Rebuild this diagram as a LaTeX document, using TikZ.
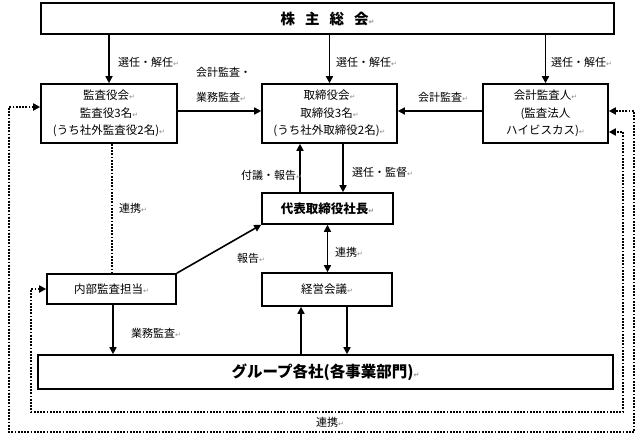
\documentclass[tikz,border=0pt]{standalone}
\usepackage{fontspec}
\setmainfont{Noto Sans CJK JP}
\newfontfamily\djv{DejaVu Sans}
\usetikzlibrary{arrows.meta,calc}
\newcommand\rmk{{\djv\fontsize{7}{7}\selectfont\color{black!45}↵}}
\tikzset{
  bx/.style={draw, line width=1.6pt, inner sep=0pt, align=center,
    font=\fontsize{11.5}{17.5}\selectfont},
  arr/.style={line width=1.6pt, -{Triangle[length=7pt,width=7pt]}},
  darr/.style={line width=1.6pt, {Triangle[length=7pt,width=7pt]}-{Triangle[length=7pt,width=7pt]}},
  dotln/.style={line width=1.8pt, dash pattern=on 1.8pt off 1.4pt},
  dotarr/.style={dotln, {Triangle[length=7pt,width=7pt]}-{Triangle[length=7pt,width=7pt]}},
  lbl/.style={inner sep=0pt, font=\fontsize{11}{13}\selectfont},
}
\begin{document}
\begin{tikzpicture}[x=1pt,y=-1pt]
\useasboundingbox (0,0) rectangle (642,439);
% boxes
\node[bx, minimum width=573, minimum height=31, font=\fontsize{14.5}{16}\selectfont\bfseries] (top) at (327.5,18.5) {株\hspace{10pt}主\hspace{10pt}総\hspace{10pt}会\rmk};
\node[bx, minimum width=136, minimum height=59] (kansa) at (109,113.5) {監査役会\rmk\\監査役3名\rmk\\(うち社外監査役2名)\rmk};
\node[bx, minimum width=135, minimum height=59] (tori) at (329.5,113.5) {取締役会\rmk\\取締役3名\rmk\\(うち社外取締役2名)\rmk};
\node[bx, minimum width=125, minimum height=59] (kaikei) at (545.5,113.5) {会計監査人\rmk\\(監査法人\\ハイビスカス)\rmk};
\node[bx, minimum width=131, minimum height=31, font=\fontsize{12.5}{14}\selectfont\bfseries] (shacho) at (327.5,208.5) {代表取締役社長\rmk};
\node[bx, minimum width=130, minimum height=33] (keiei) at (327,289.5) {経営会議\rmk};
\node[bx, minimum width=129, minimum height=30] (naibu) at (111.5,289) {内部監査担当\rmk};
\node[bx, minimum width=575, minimum height=34, font=\fontsize{15.5}{17}\selectfont\bfseries] (group) at (325.5,372) {グループ各社(各事業部門)\rmk};
% arrows from top
\draw[arr] (top.south -| kansa.north) -- (kansa.north);
\draw[arr] (top.south -| tori.north) -- (tori.north);
\draw[arr] (top.south -| kaikei.north) -- (kaikei.north);
\node[lbl, anchor=west] (l1) at (118,62) {選任・解任\rmk};
\node[lbl, anchor=west] (l2) at (336,62) {選任・解任\rmk};
\node[lbl, anchor=west] (l3) at (551,62) {選任・解任\rmk};
% horizontal arrows into tori
\draw[arr] ([yshift=2.5pt]kansa.east) -- ([yshift=2.5pt]kansa.east -| tori.west);
\draw[arr] ([yshift=2.5pt]kaikei.west) -- ([yshift=2.5pt]kaikei.west -| tori.east);
\node[lbl, anchor=west] (l4) at (196,72) {会計監査・};
\node[lbl, anchor=west] (l5) at (196,97) {業務監査\rmk};
\node[lbl, anchor=west] (l6) at (418,97) {会計監査\rmk};
% tori <-> shacho
\draw[arr] ([xshift=-27.5pt]shacho.north) -- ([xshift=-27.5pt]shacho.north |- tori.south);
\draw[arr] ([xshift=15.5pt]shacho.north |- tori.south) -- ([xshift=15.5pt]shacho.north);
\node[lbl, anchor=west] (l7) at (241,175) {付議・報告\rmk};
\node[lbl, anchor=west] (l8) at (352,172) {選任・監督\rmk};
% shacho <-> keiei
\draw[darr] (shacho.south) -- (shacho.south |- keiei.north);
\node[lbl, anchor=west] (l9) at (335,252) {連携\rmk};
% naibu -> shacho
\draw[arr] (naibu.north east) -- (shacho.south west);
\node[lbl, anchor=west] (l10) at (237,258) {報告\rmk};
% kansa ... naibu
\draw[dotln] ([xshift=3pt]kansa.south) -- ([xshift=3pt]kansa.south |- naibu.north);
\node[lbl, anchor=west] (l11) at (119,208) {連携\rmk};
% naibu -> group
\draw[arr] ([xshift=1.5pt]naibu.south) -- ([xshift=1.5pt]naibu.south |- group.north);
\node[lbl, anchor=west] (l12) at (131,333) {業務監査\rmk};
% keiei <-> group
\draw[arr] ([xshift=-26pt]keiei.south |- group.north) -- ([xshift=-26pt]keiei.south);
\draw[arr] ([xshift=20pt]keiei.south) -- ([xshift=20pt]keiei.south |- group.north);
% dotted loops
\draw[dotarr] ([yshift=6.5pt]kansa.west) -| (9,432) -| (634,111) -- ([yshift=2.5pt]kaikei.east);
\draw[dotarr] (naibu.west) -| (31,412) -| (623,132) -- ([yshift=-18.5pt]kaikei.east);
\node[lbl] (l13) at (330,422) {連携\rmk};
\end{tikzpicture}
\end{document}
